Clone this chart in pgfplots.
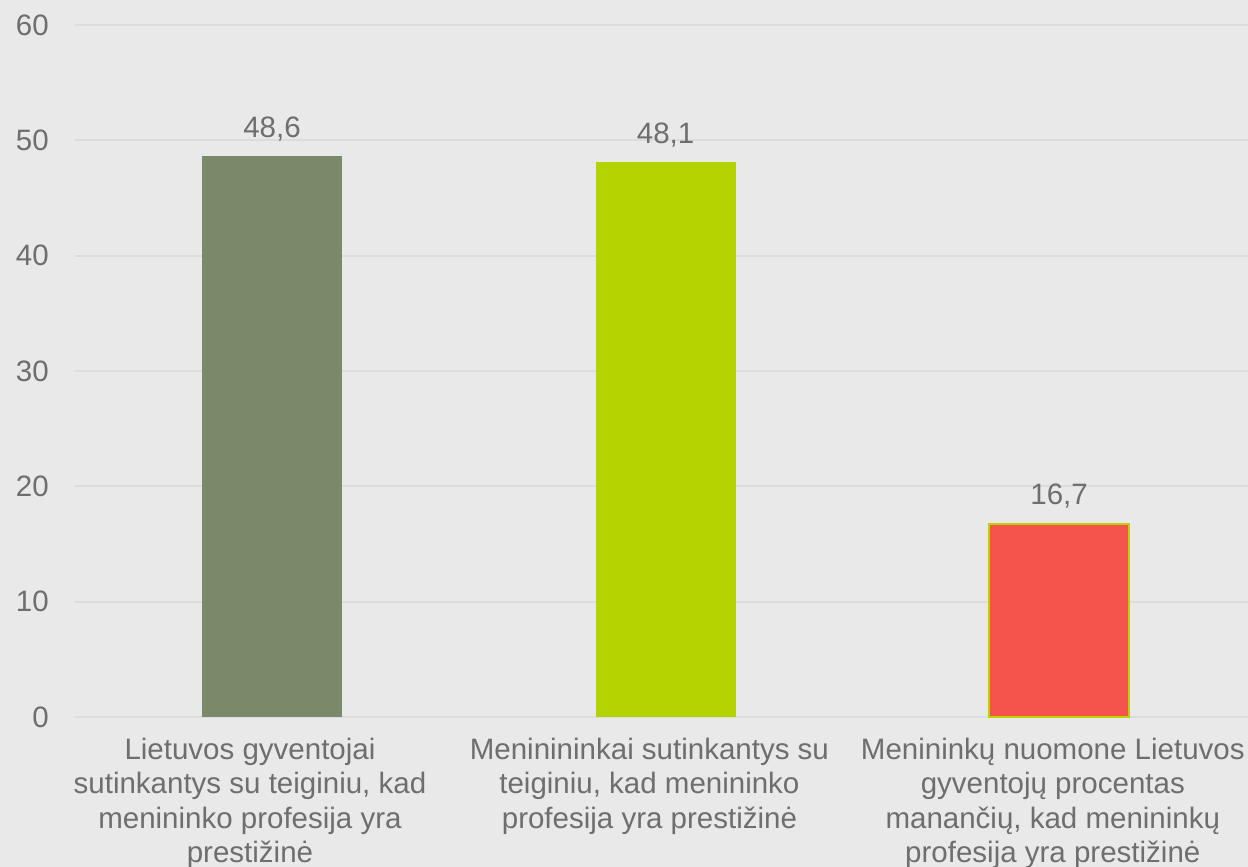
\documentclass[border=0pt]{standalone}
\usepackage{fontspec}
\setmainfont{Liberation Sans}
\usepackage{pgfplots}
\pgfplotsset{compat=1.18}
\definecolor{bgc}{HTML}{E9E9E9}
\definecolor{gridc}{HTML}{DCDCDC}
\definecolor{txt}{HTML}{6E6E6E}
\definecolor{c1}{HTML}{7A896A}
\definecolor{c2}{HTML}{B5D300}
\definecolor{c3}{HTML}{F5544A}
\definecolor{c3b}{HTML}{BFD000}
\begin{document}
\begin{tikzpicture}
\useasboundingbox (0,0) rectangle (1248bp,867bp);
\fill[bgc] (0,0) rectangle (1248bp,867bp);
\begin{axis}[
  at={(75bp,150bp)}, anchor=south west,
  scale only axis, width=1173bp, height=692bp,
  xmin=-0.5006, xmax=2.48, ymin=0, ymax=60,
  ytick={0,10,...,60}, xtick={-0.056,0.959,1.984},
  xticklabels={{Lietuvos gyventojai\\sutinkantys su teiginiu, kad\\menininko profesija yra\\prestižinė},
               {Meninininkai sutinkantys su\\teiginiu, kad menininko\\profesija yra prestižinė},
               {Menininkų nuomone Lietuvos\\gyventojų procentas\\manančių, kad menininkų\\profesija yra prestižinė}},
  axis line style={draw=none},
  major tick length=0pt,
  ymajorgrids, grid style={gridc, line width=2bp},
  tick label style={font=\fontsize{29.5bp}{34.3bp}\selectfont, text=txt},
  yticklabel style={anchor=east, inner sep=0pt, xshift=-26bp},
  xticklabel style={anchor=north, align=center, inner sep=0pt, yshift=-21bp},
  /pgf/number format/assume math mode=true,
  ybar, bar width=140bp, bar shift=0pt,
  clip=false,
  nodes near coords,
  nodes near coords style={anchor=south, inner sep=0pt, yshift=15bp, font=\fontsize{29.5bp}{34bp}\selectfont, text=txt,
    /pgf/number format/.cd, fixed, fixed zerofill, precision=1, use comma, assume math mode=true},
]
\addplot[fill=c1, draw=none] coordinates {(0,48.6)};
\addplot[fill=c2, draw=none] coordinates {(1,48.1)};
\addplot[fill=c3, draw=c3b, line width=2bp] coordinates {(2,16.7)};
\end{axis}
\end{tikzpicture}
\end{document}
